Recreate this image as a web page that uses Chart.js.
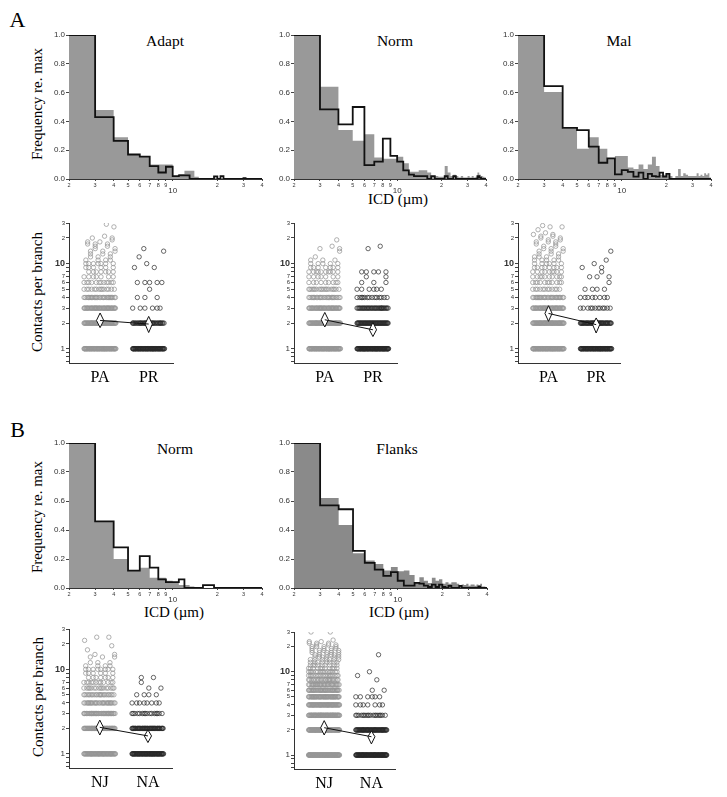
<!DOCTYPE html>
<html><head><meta charset="utf-8">
<script src="https://cdn.jsdelivr.net/npm/chart.js@4.4.0/dist/chart.umd.min.js"></script>
<style>
body{margin:0;background:#fff;width:727px;height:797px;overflow:hidden;position:relative;font-family:"Liberation Serif","Times New Roman",serif;}
.t{position:absolute;transform:translate(-50%,-50%);white-space:nowrap;color:#000;line-height:1;}
.r{transform:translate(-50%,-50%) rotate(-90deg);}
canvas{position:absolute;}
</style></head><body>
<div class="t" style="left:17.5px;top:20px;font-size:22px">A</div>
<div class="t" style="left:17.5px;top:430px;font-size:22px">B</div>
<div class="t" style="left:165px;top:41px;font-size:15.5px">Adapt</div>
<div class="t" style="left:395px;top:41px;font-size:15.5px">Norm</div>
<div class="t" style="left:619px;top:41px;font-size:15.5px">Mal</div>
<div class="t" style="left:175px;top:449px;font-size:15.5px">Norm</div>
<div class="t" style="left:397px;top:449px;font-size:15.5px">Flanks</div>
<div class="t" style="left:398px;top:199px;font-size:15px">ICD (µm)</div>
<div class="t" style="left:174px;top:612px;font-size:15px">ICD (µm)</div>
<div class="t" style="left:399px;top:612px;font-size:15px">ICD (µm)</div>
<div class="t r" style="left:37px;top:104px;font-size:15px">Frequency re. max</div>
<div class="t r" style="left:37px;top:517px;font-size:15px">Frequency re. max</div>
<div class="t r" style="left:37px;top:292px;font-size:15px">Contacts per branch</div>
<div class="t r" style="left:38px;top:697px;font-size:15px">Contacts per branch</div>
<script>
// ---------- data ----------
const binEdges = [2,3,4,5,6,7,8,9,10,11,12,13,14,15,16,17,18,19,20,21,22,23,24,25,26,27,28,29,30,31,32,33,34,35,36,37,38,39,40];
const histTicks = [2,3,4,5,6,7,8,9,10,20,30,40];
const histTickLabels = ['2','3','4','5','6','7','8','9','10','2','3','4'];
const freqTicks = [0,0.2,0.4,0.6,0.8,1.0];
const contactTicks = [0.7,0.8,0.9,1,2,3,4,5,6,7,8,9,10,20,30];
const contactTickLabels = ['','','','1','2','3','4','5','6','7','','','10','2','3'];
const catsA = ['PA','PR'];
const catsB = ['NJ','NA'];

const adaptGray  = [1.0,0.48,0.29,0.17,0.16,0.10,0.10,0.10,0.02,0.035,0.058,0.058,0.016,0,0,0,0,0.008,0,0.005,0,0,0,0,0,0,0,0,0.005,0,0,0,0,0,0,0,0,0];
const adaptBlack = [1.0,0.43,0.265,0.17,0.155,0.09,0.045,0.085,0.02,0.025,0.025,0,0,0,0,0,0,0.018,0,0.02,0,0,0,0,0,0,0,0,0.006,0,0,0,0,0,0,0,0,0];
const normGray   = [1.0,0.64,0.34,0.265,0.31,0.15,0.14,0.14,0.155,0.11,0.05,0.05,0.06,0.06,0.045,0.02,0.02,0.015,0.015,0.09,0.045,0.02,0.03,0.02,0.01,0.02,0.01,0.01,0.02,0.01,0.02,0.01,0.015,0.045,0.03,0.02,0.015,0.01];
const normBlack  = [1.0,0.483,0.38,0.50,0.097,0.12,0.28,0.16,0.12,0.06,0.03,0.02,0.02,0.02,0,0.02,0,0,0,0.02,0,0,0.02,0,0,0,0,0,0,0,0,0,0,0.02,0.01,0,0,0];
const malGray    = [1.0,0.605,0.35,0.21,0.29,0.21,0.14,0.16,0.16,0.08,0.07,0.10,0.07,0.10,0.155,0.09,0.03,0.03,0.03,0.02,0,0.02,0.07,0.02,0.04,0.03,0.02,0.02,0.02,0.02,0.04,0.02,0.03,0.02,0.04,0.03,0.04,0.01];
const malBlack   = [1.0,0.645,0.355,0.34,0.225,0.113,0.143,0.032,0.062,0.05,0.016,0.044,0,0.035,0.02,0.016,0.044,0.016,0.035,0,0,0,0,0,0,0,0,0,0,0,0,0,0,0,0,0,0,0];
const bNormGray  = [1.0,0.46,0.20,0.12,0.14,0.07,0.07,0.05,0.04,0.02,0.02,0.01,0,0,0,0,0,0,0,0,0,0,0,0,0,0,0,0,0,0,0,0,0,0,0,0,0,0];
const bNormBlack = [1.0,0.46,0.28,0.12,0.22,0.14,0.06,0.04,0.04,0.06,0,0,0,0,0.02,0.02,0.02,0,0,0,0,0,0,0,0,0,0,0,0,0,0,0,0,0,0,0,0,0];
const flanksGray = [1.0,0.62,0.435,0.24,0.19,0.165,0.12,0.145,0.115,0.12,0.09,0.04,0.075,0.05,0.035,0.07,0.05,0.06,0.03,0.04,0.03,0.04,0.04,0.03,0.02,0.025,0.02,0.03,0.015,0.025,0.025,0.015,0.025,0.02,0.03,0.01,0.01,0];
const flanksBlack= [1.0,0.57,0.543,0.256,0.173,0.127,0.083,0.11,0.05,0.016,0.016,0.035,0.03,0.016,0.007,0.023,0.007,0.023,0.007,0,0.014,0,0,0,0.014,0,0,0,0,0,0,0,0,0.01,0,0,0,0];

// contacts per branch: [value, number of branches]
const adaptPA = [[1,70],[2,60],[3,45],[4,28],[5,14],[6,12],[7,7],[8,7],[9,6],[10,7],[11,4],[12,3],[13,3],[14,3],[15,2],[16,2],[17,3],[18,2],[19,1],[20,2],[21,1],[27,1],[29,1]];
const adaptPR = [[1,70],[2,40],[3,6],[4,3],[5,1],[6,5],[9,2],[10,1],[12,1],[14,1],[15,1]];
const normPA  = [[1,70],[2,60],[3,45],[4,26],[5,18],[6,9],[7,7],[8,10],[9,7],[10,5],[11,3],[12,1],[14,1],[15,2],[16,1],[19,1]];
const normPR  = [[1,80],[2,55],[3,35],[4,14],[5,6],[6,3],[7,2],[8,5],[15,1],[16,1]];
const malPA   = [[1,70],[2,60],[3,45],[4,28],[5,12],[6,11],[7,10],[8,9],[9,8],[10,6],[11,5],[12,4],[13,3],[14,3],[15,3],[16,2],[17,2],[18,3],[19,2],[20,2],[21,2],[22,2],[23,1],[25,1],[27,2],[28,1]];
const malPR   = [[1,70],[2,50],[3,12],[4,8],[5,4],[6,1],[7,3],[8,1],[9,2],[10,1],[11,1],[14,1]];
const njNorm  = [[1,60],[2,55],[3,40],[4,28],[5,22],[6,16],[7,12],[8,7],[9,6],[10,8],[11,4],[12,3],[14,3],[15,2],[17,1],[19,1],[22,1],[24,2]];
const naNorm  = [[1,70],[2,50],[3,16],[4,8],[5,4],[6,2],[7,1],[8,2]];
const njFlanks= [[1,90],[2,80],[3,70],[4,60],[5,50],[6,40],[7,30],[8,22],[9,18],[10,16],[11,11],[12,9],[13,8],[14,7],[15,6],[16,6],[17,5],[18,5],[19,4],[20,4],[21,3],[22,3],[23,2],[24,1],[30,2]];
const naFlanks= [[1,80],[2,60],[3,18],[4,7],[5,6],[6,2],[8,1],[9,1],[10,1],[16,1]];

// means diamonds: [mean, lower, upper]
const adaptDiamonds  = [[2.15,1.77,2.63],[1.95,1.55,2.4]];
const normDiamonds   = [[2.19,1.8,2.67],[1.67,1.39,2.04]];
const malDiamonds    = [[2.6,2.1,3.2],[1.92,1.53,2.3]];
const bNormDiamonds  = [[2.06,1.67,2.51],[1.63,1.36,1.92]];
const flanksDiamonds = [[2.13,1.74,2.59],[1.66,1.36,1.95]];

// ---------- drawing ----------
const SANS = '"Liberation Sans", Arial, sans-serif';
const SERIF = '"Liberation Serif", "Times New Roman", serif';
const JW = 0.33, DW = 0.075;

function addCanvas(box, yw, xh){
  const c = document.createElement('canvas');
  const w = (box.r - box.l) + yw + 5, h = (box.b - box.t) + 6 + xh;
  c.width = w; c.height = h;
  c.style.left = (box.l - yw) + 'px'; c.style.top = (box.t - 6) + 'px';
  c.style.width = w + 'px'; c.style.height = h + 'px';
  document.body.appendChild(c);
  return c;
}
function stepPoints(vals){
  return binEdges.map((e,i)=>({x:e, y: i < vals.length ? vals[i] : 0}));
}
function makeHist(box, gray, black, grayColor){
  const c = addCanvas(box, 30, 22);
  new Chart(c, {
    type:'line',
    data:{datasets:[
      {data:stepPoints(black), stepped:true, borderColor:'#111', borderWidth:1.8, pointRadius:0, fill:false},
      {data:stepPoints(gray), stepped:true, borderColor:grayColor, borderWidth:0, backgroundColor:grayColor, pointRadius:0, fill:'origin'}
    ]},
    options:{
      responsive:false, animation:false, devicePixelRatio:1,
      layout:{padding:{top:6,right:5,left:0,bottom:0}},
      plugins:{legend:{display:false}, tooltip:{enabled:false}},
      scales:{
        x:{type:'logarithmic', min:2, max:40,
           afterBuildTicks:s=>{s.ticks = histTicks.map(v=>({value:v}));},
           afterFit:s=>{s.height = 22;},
           ticks:{autoSkip:false, maxRotation:0, minRotation:0, padding:1, color:'#333',
             font:ctx=>(ctx.tick && ctx.tick.value===10) ? {family:SANS,size:8,lineHeight:0.75} : {family:SANS,size:5.5,lineHeight:1.2},
             callback:(v,i)=> v===10 ? ['', '10'] : histTickLabels[i]},
           grid:{drawOnChartArea:false, drawTicks:true, tickLength:2, color:'#444'},
           border:{display:true, color:'#333', width:1}},
        y:{type:'linear', min:0, max:1,
           afterBuildTicks:s=>{s.ticks = freqTicks.map(v=>({value:v}));},
           afterFit:s=>{s.width = 30;},
           ticks:{color:'#333', padding:1, font:{family:SANS,size:8}, callback:v=>Number(v).toFixed(1)},
           grid:{drawOnChartArea:false, drawTicks:true, tickLength:3, color:'#444'},
           border:{display:true, color:'#333', width:1}}
      }
    }
  });
}
function jitter(pairs, xc){
  const pts = [];
  pairs.forEach(([v,n])=>{
    for(let i=0;i<n;i++){
      const f = ((i+1)*0.6180339887 + v*0.3819660113) % 1;
      pts.push({x: xc + (f-0.5)*2*JW, y: v});
    }
  });
  return pts;
}
function diamond(d, xc){
  const [m, lo, hi] = d;
  return [{x:xc-DW,y:m},{x:xc,y:hi},{x:xc+DW,y:m},{x:xc,y:lo},{x:xc-DW,y:m}];
}
function makeScatter(box, g1, g2, dia, cats){
  const c = addCanvas(box, 30, 26);
  new Chart(c, {
    type:'line',
    data:{datasets:[
      {data:[{x:1,y:dia[0][0]},{x:2,y:dia[1][0]}], borderColor:'#111', borderWidth:1, pointRadius:0, fill:false},
      {data:diamond(dia[0],1), borderColor:'#111', borderWidth:1, backgroundColor:'#fff', pointRadius:0, fill:'shape'},
      {data:diamond(dia[1],2), borderColor:'#111', borderWidth:1, backgroundColor:'#fff', pointRadius:0, fill:'shape'},
      {data:jitter(g2,2), showLine:false, pointRadius:2.2, pointBorderWidth:1, pointBackgroundColor:'rgba(0,0,0,0)', pointBorderColor:'rgba(40,40,40,0.7)'},
      {data:jitter(g1,1), showLine:false, pointRadius:2.2, pointBorderWidth:1, pointBackgroundColor:'rgba(0,0,0,0)', pointBorderColor:'rgba(150,150,150,0.75)'}
    ]},
    options:{
      responsive:false, animation:false, devicePixelRatio:1,
      layout:{padding:{top:6,right:5,left:0,bottom:0}},
      plugins:{legend:{display:false}, tooltip:{enabled:false}},
      scales:{
        x:{type:'linear', min:0.36, max:2.5,
           afterBuildTicks:s=>{s.ticks = [{value:1},{value:2}];},
           afterFit:s=>{s.height = 26;},
           ticks:{autoSkip:false, maxRotation:0, padding:5, color:'#000', font:{family:SERIF,size:16}, callback:(v,i)=>cats[i]},
           grid:{drawOnChartArea:false, drawTicks:false},
           border:{display:true, color:'#333', width:1}},
        y:{type:'logarithmic', min:0.68, max:30,
           afterBuildTicks:s=>{s.ticks = contactTicks.map(v=>({value:v}));},
           afterFit:s=>{s.width = 30;},
           ticks:{autoSkip:false, color:'#333', padding:1,
             font:ctx=>{const v = ctx.tick ? ctx.tick.value : 0;
               return v===10 ? {family:SANS,size:9,weight:'bold'} : (v===1 ? {family:SANS,size:8} : {family:SANS,size:6});},
             callback:(v,i)=>contactTickLabels[i]},
           grid:{drawOnChartArea:false, drawTicks:true, tickLength:3, color:'#444'},
           border:{display:true, color:'#333', width:1}}
      }
    }
  });
}

makeHist({l:69,t:35,r:262,b:179}, adaptGray, adaptBlack, '#999');
makeHist({l:294,t:35,r:486,b:179}, normGray, normBlack, '#999');
makeHist({l:518,t:35,r:711,b:179}, malGray, malBlack, '#999');
makeHist({l:69,t:443,r:262,b:588}, bNormGray, bNormBlack, '#999');
makeHist({l:294,t:443,r:487,b:588}, flanksGray, flanksBlack, '#8a8a8a');

makeScatter({l:69,t:223,r:173,b:363}, adaptPA, adaptPR, adaptDiamonds, catsA);
makeScatter({l:294,t:223,r:397,b:363}, normPA, normPR, normDiamonds, catsA);
makeScatter({l:518,t:223,r:620,b:363}, malPA, malPR, malDiamonds, catsA);
makeScatter({l:69,t:629,r:172,b:768}, njNorm, naNorm, bNormDiamonds, catsB);
makeScatter({l:294,t:632,r:395,b:769}, njFlanks, naFlanks, flanksDiamonds, catsB);
</script>
</body></html>
